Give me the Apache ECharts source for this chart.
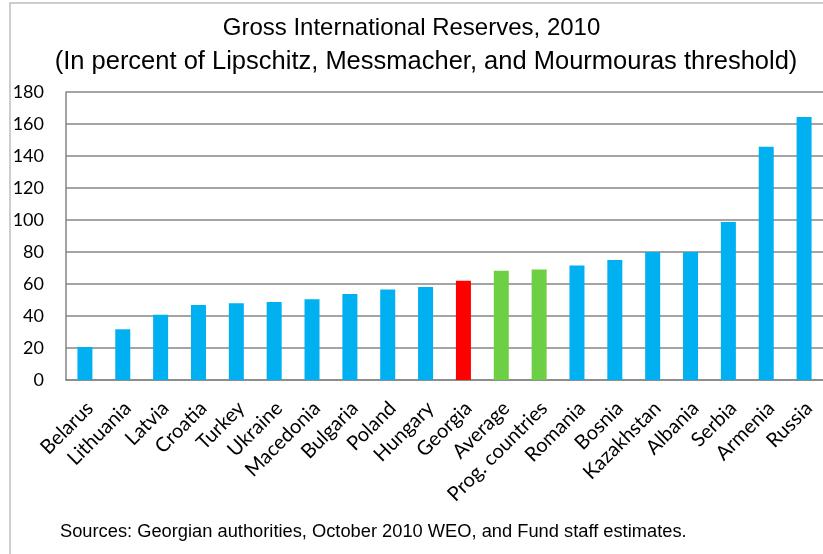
<!DOCTYPE html>
<html>
<head>
<meta charset="utf-8">
<script src="https://cdn.jsdelivr.net/npm/echarts@6/dist/echarts.min.js"></script>
<style>
  html, body { margin: 0; padding: 0; background: #fff; }
  #chart { width: 823px; height: 554px; }
</style>
</head>
<body>
<div id="chart"></div>
<script>
// Gross international reserves relative to the LMM threshold, 2010 (percent)
const categories = [
  'Belarus', 'Lithuania', 'Latvia', 'Croatia', 'Turkey', 'Ukraine', 'Macedonia',
  'Bulgaria', 'Poland', 'Hungary', 'Georgia', 'Average', 'Prog. countries',
  'Romania', 'Bosnia', 'Kazakhstan', 'Albania', 'Serbia', 'Armenia', 'Russia'
];
const reserves = [
  20.6, 31.7, 40.8, 46.9, 47.9, 48.7, 50.4,
  53.7, 56.5, 58.1, 62.1, 68.3, 69.0,
  71.5, 75.0, 80.0, 80.0, 98.7, 145.8, 164.4
];
// 'c' = country, 'g' = Georgia, 'a' = group averages
const groups = [
  'c', 'c', 'c', 'c', 'c', 'c', 'c',
  'c', 'c', 'c', 'g', 'a', 'a',
  'c', 'c', 'c', 'c', 'c', 'c', 'c'
];
const yTicks = [0, 20, 40, 60, 80, 100, 120, 140, 160, 180];

const titleLine = 'Gross International Reserves, 2010';
const subtitleLine = '(In percent of Lipschitz, Messmacher, and Mourmouras threshold)';
const sourceNote = 'Sources: Georgian authorities, October 2010 WEO, and Fund staff estimates.';

const groupColors = { c: '#00B0F0', g: '#FF0000', a: '#6DCF44' };
const labelFont = 'Lato, "Open Sans", sans-serif';
const headFont = '"Liberation Sans", Arial, sans-serif';

const chart = echarts.init(document.getElementById('chart'), null, { renderer: 'canvas' });

chart.setOption({
  backgroundColor: '#ffffff',
  animation: false,
  graphic: [
    {
      type: 'rect',
      shape: { x: 10, y: 3, width: 830, height: 560 },
      style: { fill: 'none', stroke: '#bdbdbd', lineWidth: 1.5 },
      silent: true
    },
    {
      type: 'text',
      x: 411.5,
      y: 28,
      style: {
        text: titleLine,
        font: '24px ' + headFont,
        fill: '#000',
        align: 'center',
        verticalAlign: 'middle'
      }
    },
    {
      type: 'text',
      x: 426,
      y: 62,
      style: {
        text: subtitleLine,
        font: '25.5px ' + headFont,
        fill: '#000',
        align: 'center',
        verticalAlign: 'middle'
      }
    },
    {
      type: 'text',
      left: 60,
      top: 523,
      style: {
        text: sourceNote,
        font: '18.3px ' + headFont,
        fill: '#000'
      }
    }
  ],
  grid: { left: 66, right: -5, top: 92, bottom: 174, containLabel: false },
  xAxis: {
    type: 'category',
    data: categories,
    axisLine: { show: true, lineStyle: { color: '#868686', width: 1.5 } },
    axisTick: { show: false },
    axisLabel: {
      interval: 0,
      rotate: 45,
      margin: 20,
      verticalAlign: 'top',
      lineHeight: 14,
      fontFamily: labelFont,
      fontSize: 20,
      color: '#000'
    }
  },
  yAxis: {
    type: 'value',
    min: yTicks[0],
    max: yTicks[yTicks.length - 1],
    interval: yTicks[1] - yTicks[0],
    axisLine: { show: true, lineStyle: { color: '#868686', width: 1.5 } },
    axisTick: { show: false },
    splitLine: { show: true, lineStyle: { color: '#868686', width: 1.5 } },
    axisLabel: {
      margin: 22,
      fontFamily: labelFont,
      fontSize: 18,
      color: '#000'
    }
  },
  series: [
    {
      type: 'bar',
      barWidth: 15,
      data: reserves.map((v, i) => ({
        value: v,
        itemStyle: { color: groupColors[groups[i]] }
      }))
    }
  ]
});
</script>
</body>
</html>
